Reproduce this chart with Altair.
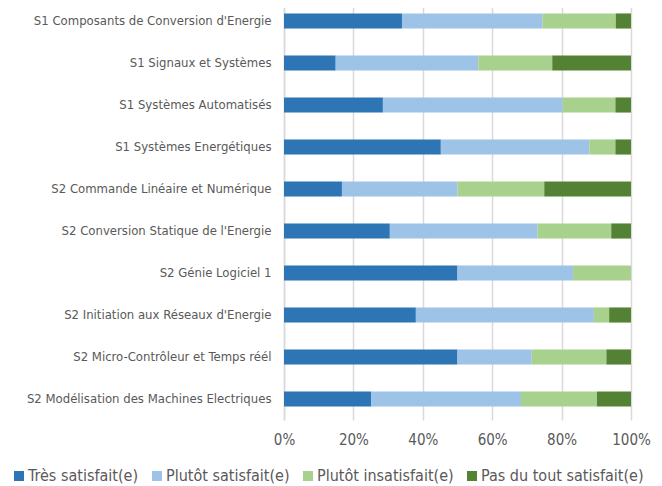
import altair as alt
import pandas as pd

courses = [
    "S1 Composants de Conversion d'Energie",
    "S1 Signaux et Systèmes",
    "S1 Systèmes Automatisés",
    "S1 Systèmes Energétiques",
    "S2 Commande Linéaire et Numérique",
    "S2 Conversion Statique de l'Energie",
    "S2 Génie Logiciel 1",
    "S2 Initiation aux Réseaux d'Energie",
    "S2 Micro-Contrôleur et Temps réél",
    "S2 Modélisation des Machines Electriques",
]
levels = ["Très satisfait(e)", "Plutôt satisfait(e)", "Plutôt insatisfait(e)", "Pas du tout satisfait(e)"]
colors = ["#2E75B6", "#9DC3E6", "#A9D18E", "#548235"]

tres = [34.0, 14.9, 28.5, 45.2, 16.7, 30.5, 50.0, 38.0, 50.0, 25.1]
plutot = [40.5, 41.1, 51.8, 42.8, 33.3, 42.6, 33.3, 51.3, 21.4, 43.2]
insat = [21.1, 21.3, 15.2, 7.5, 25.0, 21.2, 16.7, 4.4, 21.5, 21.9]
pas = [4.4, 22.7, 4.5, 4.5, 25.0, 5.7, 0.0, 6.3, 7.1, 9.8]

rows = []
for i, c in enumerate(courses):
    for k, (lev, vals) in enumerate(zip(levels, [tres, plutot, insat, pas])):
        rows.append({"course": c, "level": lev, "value": vals[i], "ord": k})
df = pd.DataFrame(rows)

FONT = "DejaVu Sans Condensed, sans-serif"

chart = alt.Chart(df).mark_bar().encode(
    y=alt.Y("course:N", sort=courses, title=None,
            scale=alt.Scale(paddingInner=0.64, paddingOuter=0.32),
            axis=alt.Axis(labelFontSize=13, labelColor="#595959", labelFont=FONT,
                          ticks=False, domainColor="#D9D9D9", domainWidth=1.5,
                          labelPadding=13, labelLimit=300)),
    x=alt.X("value:Q", stack="normalize", title=None,
            scale=alt.Scale(domain=[0, 1], nice=False),
            axis=alt.Axis(format="%", values=[0, 0.2, 0.4, 0.6, 0.8, 1.0],
                          labelFontSize=15, labelColor="#595959", labelFont=FONT,
                          ticks=False, domain=False, gridColor="#D9D9D9", gridWidth=1.5,
                          labelPadding=12, labelFlush=False)),
    color=alt.Color("level:N", sort=levels,
                    scale=alt.Scale(domain=levels, range=colors),
                    legend=alt.Legend(title=None, orient="none", direction="horizontal",
                                      legendX=-273, legendY=468,
                                      symbolType="square", symbolSize=100,
                                      symbolStrokeWidth=0,
                                      labelFontSize=16, labelColor="#595959", labelFont=FONT,
                                      columnPadding=10, labelOffset=1, labelLimit=300)),
    order=alt.Order("ord:Q"),
).properties(
    width=347, height=420,
    autosize=alt.AutoSizeParams(type="none"),
    padding={"left": 276, "top": -8, "right": 23, "bottom": 66},
).configure_view(stroke=None)

chart.save("out.html", embed_options={"renderer": "svg", "actions": False})
